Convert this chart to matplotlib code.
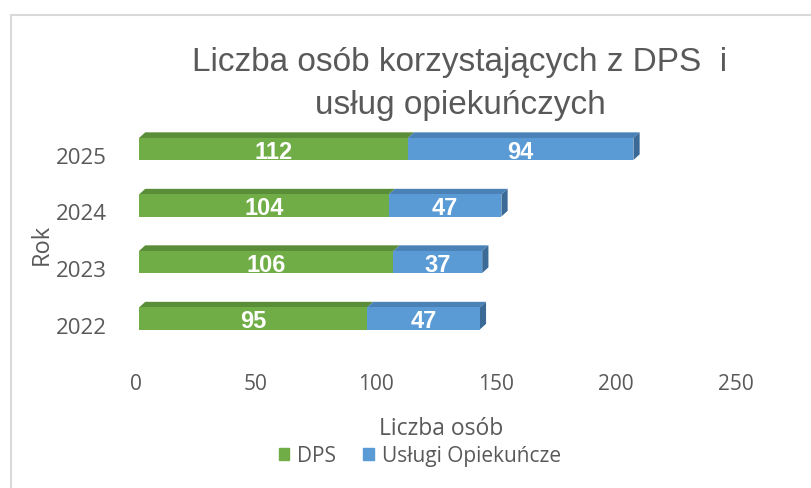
import matplotlib.pyplot as plt
import matplotlib.transforms as mtransforms
from matplotlib.patches import Rectangle

years = ['2022', '2023', '2024', '2025']
dps = [95, 106, 104, 112]
uslugi = [47, 37, 47, 94]

green = '#70ad47'
green_top = '#5a8d38'
blue = '#5b9bd5'
blue_top = '#4a82b8'
blue_side = '#3b6a97'
txt = '#595959'

narrow = ['Liberation Sans Narrow', 'Liberation Sans', 'DejaVu Sans']
body = ['Open Sans', 'DejaVu Sans']

fig = plt.figure(figsize=(8.11, 4.89), dpi=100)
ax = fig.add_axes([139/811, 1-347.75/489, 600/811, 226/489])

h = 0.39
dx = 2.6   # depth in x units
dy = 0.10  # depth in y units
ypos = list(range(len(years)))

b1 = ax.barh(ypos, dps, height=h, color=green, zorder=2)
b2 = ax.barh(ypos, uslugi, left=dps, height=h, color=blue, zorder=2)

for i, y in enumerate(ypos):
    top = y + h/2
    bot = y - h/2
    a, b = dps[i], dps[i] + uslugi[i]
    # top faces
    ax.fill([0, dx, a + dx, a], [top, top + dy, top + dy, top], color=green_top, lw=0, zorder=1)
    ax.fill([a, a + dx, b + dx, b], [top, top + dy, top + dy, top], color=blue_top, lw=0, zorder=1)
    # end face
    ax.fill([b, b + dx, b + dx, b], [bot, bot + dy, top + dy, top], color=blue_side, lw=0, zorder=1)

    t1 = ax.text(a/2, y - 0.04, str(dps[i]), ha='center', va='center', color='white',
                 fontsize=17, fontweight='bold', family=narrow, zorder=3)
    t1.set_clip_path(b1[i])
    t2 = ax.text(a + uslugi[i]/2, y - 0.04, str(uslugi[i]), ha='center', va='center', color='white',
                 fontsize=17, fontweight='bold', family=narrow, zorder=3)
    t2.set_clip_path(b2[i])

ax.set_xlim(0, 250)
ax.set_ylim(-0.5, 3.5)
ax.set_xticks([0, 50, 100, 150, 200, 250])
ax.set_yticks(ypos)
ax.set_yticklabels(years)
for s in ax.spines.values():
    s.set_visible(False)
ax.tick_params(axis='both', length=0, colors=txt)
ax.tick_params(axis='y', pad=23, labelsize=16)
ax.tick_params(axis='x', pad=19, labelsize=15)
for lab in ax.get_yticklabels() + ax.get_xticklabels():
    lab.set_family(body)
off = mtransforms.ScaledTranslation(0, -6/100, fig.dpi_scale_trans)
for lab in ax.get_yticklabels():
    lab.set_transform(lab.get_transform() + off)
offx = mtransforms.ScaledTranslation(-3/100, 0, fig.dpi_scale_trans)
for lab in ax.get_xticklabels():
    lab.set_transform(lab.get_transform() + offx)

fig.text(441/811, 1-429/489, 'Liczba osób', ha='center', va='center', color=txt,
         fontsize=16.5, family=body)
fig.text(42/811, 1-244/489, 'Rok', ha='center', va='center', rotation=90, color=txt,
         fontsize=17, family=body)

fig.text(460/811, 1-62/489, 'Liczba osób korzystających z DPS  i', ha='center', va='center',
         color=txt, fontsize=24, family=narrow)
fig.text(460/811, 1-106/489, 'usług opiekuńczych', ha='center', va='center',
         color=txt, fontsize=24, family=narrow)

leg = fig.legend([Rectangle((0, 0), 1, 1, color=green), Rectangle((0, 0), 1, 1, color=blue)],
                 ['DPS', 'Usługi Opiekuńcze'], loc='center', bbox_to_anchor=(420/811, 1-457/489),
                 ncol=2, frameon=False, handlelength=0.5, handleheight=0.5, handletextpad=0.4,
                 columnspacing=1.3, prop={'family': body, 'size': 15})
for t in leg.get_texts():
    t.set_color(txt)

fig.patches.append(Rectangle((11/811, -0.1), 1.2, 1.1 - 16/489, transform=fig.transFigure,
                             fill=False, edgecolor='#d9d9d9', lw=1.5))

fig.savefig('out.png', dpi=100)
